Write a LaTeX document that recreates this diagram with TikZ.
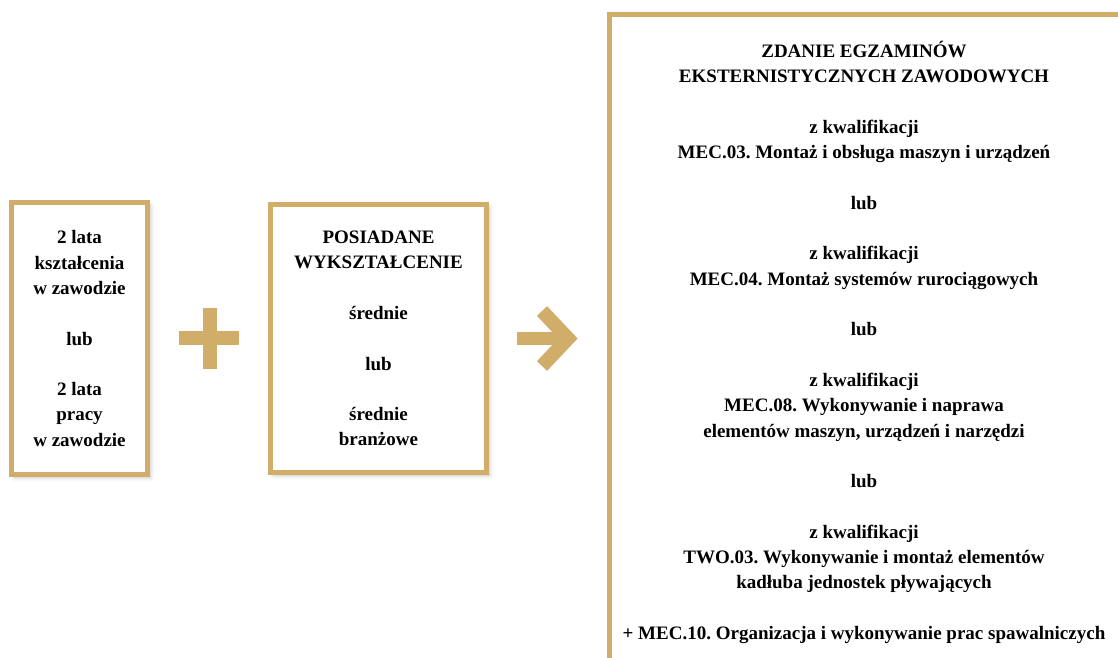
\documentclass[tikz,border=0pt]{standalone}
\usepackage{fontspec}
\setmainfont{Liberation Serif}
\usetikzlibrary{shadows.blur}
\definecolor{gold}{RGB}{209,173,106}
\newcommand{\emptyrow}{\\[\baselineskip]}
\frenchspacing

\begin{document}
\begin{tikzpicture}[
    x=1pt, y=-1pt,
    every node/.style={font=\fontsize{19}{25.3}\selectfont\bfseries, align=center, inner sep=0},
    box/.style={rectangle, draw=gold, line width=5, fill=white,
        blur shadow={shadow xshift=3pt, shadow yshift=-3pt, shadow blur radius=4pt, shadow opacity=25}},
    sign/.style={draw=gold, line width=14},
    ]
    \useasboundingbox (0,0) rectangle (1118,657);
    \clip (0,0) rectangle (1118,657);

    \node (study) [box, minimum width=136, minimum height=272] at (79.5,338.5)
        {2 lata\\kształcenia\\w zawodzie\emptyrow lub\emptyrow 2 lata\\pracy\\w zawodzie};
    \node (edu) [box, minimum width=216, minimum height=268] at (378.5,338.5)
        {POSIADANE\\WYKSZTAŁCENIE\emptyrow średnie\emptyrow lub\emptyrow średnie\\branżowe};
    \node (exam) [box, minimum width=520, minimum height=660] at (869.5,344.5) {};
    \node (examtext) [anchor=north] at (864,41)
        {ZDANIE EGZAMINÓW\\EKSTERNISTYCZNYCH ZAWODOWYCH\emptyrow
         z kwalifikacji\\MEC.03. Montaż i obsługa maszyn i urządzeń\emptyrow
         lub\emptyrow
         z kwalifikacji\\MEC.04. Montaż systemów rurociągowych\emptyrow
         lub\emptyrow
         z kwalifikacji\\MEC.08. Wykonywanie i naprawa\\elementów maszyn, urządzeń i narzędzi\emptyrow
         lub\emptyrow
         z kwalifikacji\\TWO.03. Wykonywanie i montaż elementów\\kadłuba jednostek pływających\emptyrow
         + MEC.10. Organizacja i wykonywanie prac spawalniczych};

    % plus
    \draw [sign] (209.5,308) -- (209.5,369);
    \draw [sign] (179,337.5) -- (239,337.5);

    % arrow
    \coordinate (arrtail) at (517,338.5);
    \coordinate (arrtip) at (568,338.5);
    \draw [sign, line width=13] (arrtail) -- (arrtip);
    \draw [sign, miter limit=4] (542,311) -- (arrtip) -- (542,366);
\end{tikzpicture}
\end{document}
